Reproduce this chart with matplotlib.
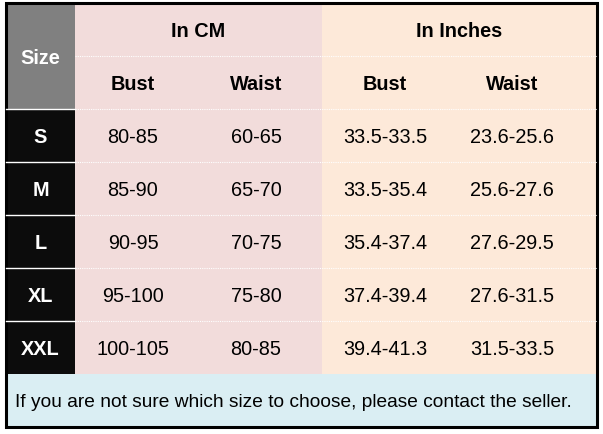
import matplotlib.pyplot as plt
from matplotlib.patches import Rectangle

plt.rcParams['font.family'] = ['Liberation Sans', 'DejaVu Sans']

sizes = ['S', 'M', 'L', 'XL', 'XXL']
bust_cm = ['80-85', '85-90', '90-95', '95-100', '100-105']
waist_cm = ['60-65', '65-70', '70-75', '75-80', '80-85']
bust_in = ['33.5-33.5', '33.5-35.4', '35.4-37.4', '37.4-39.4', '39.4-41.3']
waist_in = ['23.6-25.6', '25.6-27.6', '27.6-29.5', '27.6-31.5', '31.5-33.5']
groups = ['In CM', 'In Inches']
sub_headers = ['Bust', 'Waist', 'Bust', 'Waist']
note = 'If you are not sure which size to choose, please contact the seller.'

# layout in pixels
left, right, top, bottom = 6, 597, 4, 428
size_w = 75
cm_end = 322
row_h = 53
col_centers = [133, 256, 385, 512]
fs = 14.3

fig = plt.figure(figsize=(6.03, 4.35), dpi=100)
ax = fig.add_axes([0, 0, 1, 1])
ax.set_xlim(0, 603)
ax.set_ylim(435, 0)
ax.axis('off')

body_top = top + 2 * row_h
body_bot = body_top + len(sizes) * row_h

# backgrounds
ax.add_patch(Rectangle((left, top), size_w - left, 2 * row_h, color='#808080', lw=0))
ax.add_patch(Rectangle((left, body_top), size_w - left, body_bot - body_top, color='#0c0c0c', lw=0))
ax.add_patch(Rectangle((size_w, top), cm_end - size_w, body_bot - top, color='#f2dcdb', lw=0))
ax.add_patch(Rectangle((cm_end, top), right - cm_end, body_bot - top, color='#fde9d9', lw=0))
ax.add_patch(Rectangle((left, body_bot), right - left, bottom - body_bot, color='#daeef3', lw=0))

# row separators
ax.plot([size_w, right], [top + row_h] * 2, color='white', lw=0.8, ls=(0, (1, 1)))
for i in range(len(sizes)):
    y = body_top + i * row_h
    ax.plot([left, size_w], [y, y], color='white', lw=1.0)
    ax.plot([size_w, right], [y, y], color='white', lw=0.8, ls=(0, (1, 1)))

# outer border
ax.add_patch(Rectangle((left, top), right - left, bottom - top, fill=False, ec='black', lw=2.2))

# headers
ax.text((left + size_w) / 2, top + row_h + 1, 'Size', color='white', fontsize=fs,
        fontweight='bold', ha='center', va='center')
ax.text((size_w + cm_end) / 2, top + row_h / 2 + 1, groups[0], fontsize=fs,
        fontweight='bold', ha='center', va='center')
ax.text((cm_end + right) / 2, top + row_h / 2 + 1, groups[1], fontsize=fs,
        fontweight='bold', ha='center', va='center')
for x, h in zip(col_centers, sub_headers):
    ax.text(x, top + 1.5 * row_h + 1, h, fontsize=fs, fontweight='bold',
            ha='center', va='center')

# body rows
for i, s in enumerate(sizes):
    y = body_top + (i + 0.5) * row_h + 1
    ax.text((left + size_w) / 2, y, s, color='white', fontsize=fs,
            fontweight='bold', ha='center', va='center')
    for x, v in zip(col_centers, [bust_cm[i], waist_cm[i], bust_in[i], waist_in[i]]):
        ax.text(x, y, v, fontsize=fs, ha='center', va='center')

ax.text(left + 9, (body_bot + bottom) / 2 + 1, note, fontsize=13.8, ha='left', va='center')

fig.savefig('out.png', dpi=100)
